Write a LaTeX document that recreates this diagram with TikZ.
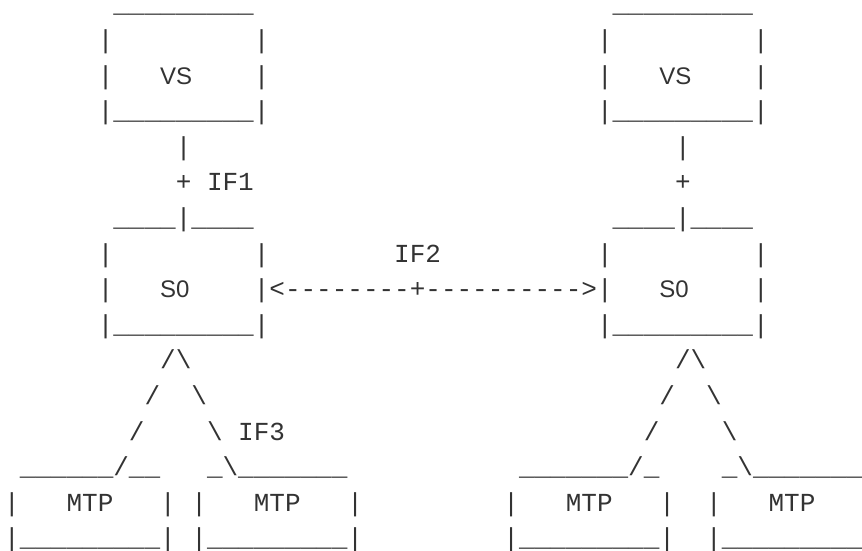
\documentclass[tikz,border=0pt]{standalone}
\usepackage{fontspec}
\setmonofont{Liberation Mono}
\newfontfamily\lblfont{Liberation Sans}
\usepackage{tikz}
\definecolor{ink}{HTML}{333333}
\tikzstyle{asc}=[anchor=base west, inner sep=0pt, outer sep=0pt, xshift=-7.8pt, yshift=-8.5pt, text height=10pt, text depth=2pt, text=ink, font=\ttfamily\fontsize{26}{26}\selectfont]
\tikzstyle{lbl}=[asc, font=\lblfont\fontsize{24}{24}\selectfont]

\begin{document}
\begin{tikzpicture}[x=15.6pt, y=-35.6pt]
\useasboundingbox (-0.769, -0.124) rectangle (54.487, 15.326);

% left VS
\node [asc] (vsLtop) at (7, 0) {\_\_\_\_\_\_\_\_\_};
\node [asc] (vsLa) at (6, 1) {|};
\node [asc] (vsLb) at (16, 1) {|};
\node [asc] (vsLc) at (6, 2) {|};
\node [lbl] (vsL) at (10, 2) {VS};
\node [asc] (vsLd) at (16, 2) {|};
\node [asc] (vsLbot) at (6, 3) {|\_\_\_\_\_\_\_\_\_|};

% right VS
\node [asc] (vsRtop) at (39, 0) {\_\_\_\_\_\_\_\_\_};
\node [asc] (vsRa) at (38, 1) {|};
\node [asc] (vsRb) at (48, 1) {|};
\node [asc] (vsRc) at (38, 2) {|};
\node [lbl] (vsR) at (42, 2) {VS};
\node [asc] (vsRd) at (48, 2) {|};
\node [asc] (vsRbot) at (38, 3) {|\_\_\_\_\_\_\_\_\_|};

% IF1 links
\node [asc] (ifLa) at (11, 4) {|};
\node [asc] (ifL) at (11, 5) {+ IF1};
\node [asc] (ifRa) at (43, 4) {|};
\node [asc] (ifR) at (43, 5) {+};

% left SO
\node [asc] (soLtop) at (7, 6) {\_\_\_\_|\_\_\_\_};
\node [asc] (soLa) at (6, 7) {|};
\node [asc] (soLb) at (16, 7) {|};
\node [asc] (soLc) at (6, 8) {|};
\node [lbl] (soL) at (10, 8) {S0};
\node [asc] (soLbot) at (6, 9) {|\_\_\_\_\_\_\_\_\_|};

% IF2
\node [asc] (if2) at (25, 7) {IF2};
\node [asc] (if2arr) at (16, 8) {|<--------+---------->|};

% right SO
\node [asc] (soRtop) at (39, 6) {\_\_\_\_|\_\_\_\_};
\node [asc] (soRa) at (38, 7) {|};
\node [asc] (soRb) at (48, 7) {|};
\node [lbl] (soR) at (42, 8) {S0};
\node [asc] (soRd) at (48, 8) {|};
\node [asc] (soRbot) at (38, 9) {|\_\_\_\_\_\_\_\_\_|};

% left tree
\node [asc] (trL0) at (10, 10) {/\textbackslash};
\node [asc] (trL1a) at (9, 11) {/};
\node [asc] (trL1b) at (12, 11) {\textbackslash};
\node [asc] (trL2a) at (8, 12) {/};
\node [asc] (trL2b) at (13, 12) {\textbackslash\ IF3};

% right tree
\node [asc] (trR0) at (43, 10) {/\textbackslash};
\node [asc] (trR1a) at (42, 11) {/};
\node [asc] (trR1b) at (45, 11) {\textbackslash};
\node [asc] (trR2a) at (41, 12) {/};
\node [asc] (trR2b) at (46, 12) {\textbackslash};

% left MTPs
\node [asc] (mtpLtopa) at (1, 13) {\_\_\_\_\_\_/\_\_};
\node [asc] (mtpLtopb) at (13, 13) {\_\textbackslash\_\_\_\_\_\_\_};
\node [asc] (mtp1a) at (0, 14) {|};
\node [asc] (mtp1) at (4, 14) {MTP};
\node [asc] (mtp1b) at (10, 14) {|};
\node [asc] (mtp2a) at (12, 14) {|};
\node [asc] (mtp2) at (16, 14) {MTP};
\node [asc] (mtp2b) at (22, 14) {|};
\node [asc] (mtp1bot) at (0, 15) {|\_\_\_\_\_\_\_\_\_|};
\node [asc] (mtp2bot) at (12, 15) {|\_\_\_\_\_\_\_\_\_|};

% right MTPs
\node [asc] (mtpRtopa) at (33, 13) {\_\_\_\_\_\_\_/\_};
\node [asc] (mtpRtopb) at (46, 13) {\_\textbackslash\_\_\_\_\_\_\_};
\node [asc] (mtp3a) at (32, 14) {|};
\node [asc] (mtp3) at (36, 14) {MTP};
\node [asc] (mtp3b) at (42, 14) {|};
\node [asc] (mtp4a) at (45, 14) {|};
\node [asc] (mtp4) at (49, 14) {MTP};
\node [asc] (mtp3bot) at (32, 15) {|\_\_\_\_\_\_\_\_\_|};
\node [asc] (mtp4bot) at (45, 15) {|\_\_\_\_\_\_\_\_\_};

\end{tikzpicture}
\end{document}
